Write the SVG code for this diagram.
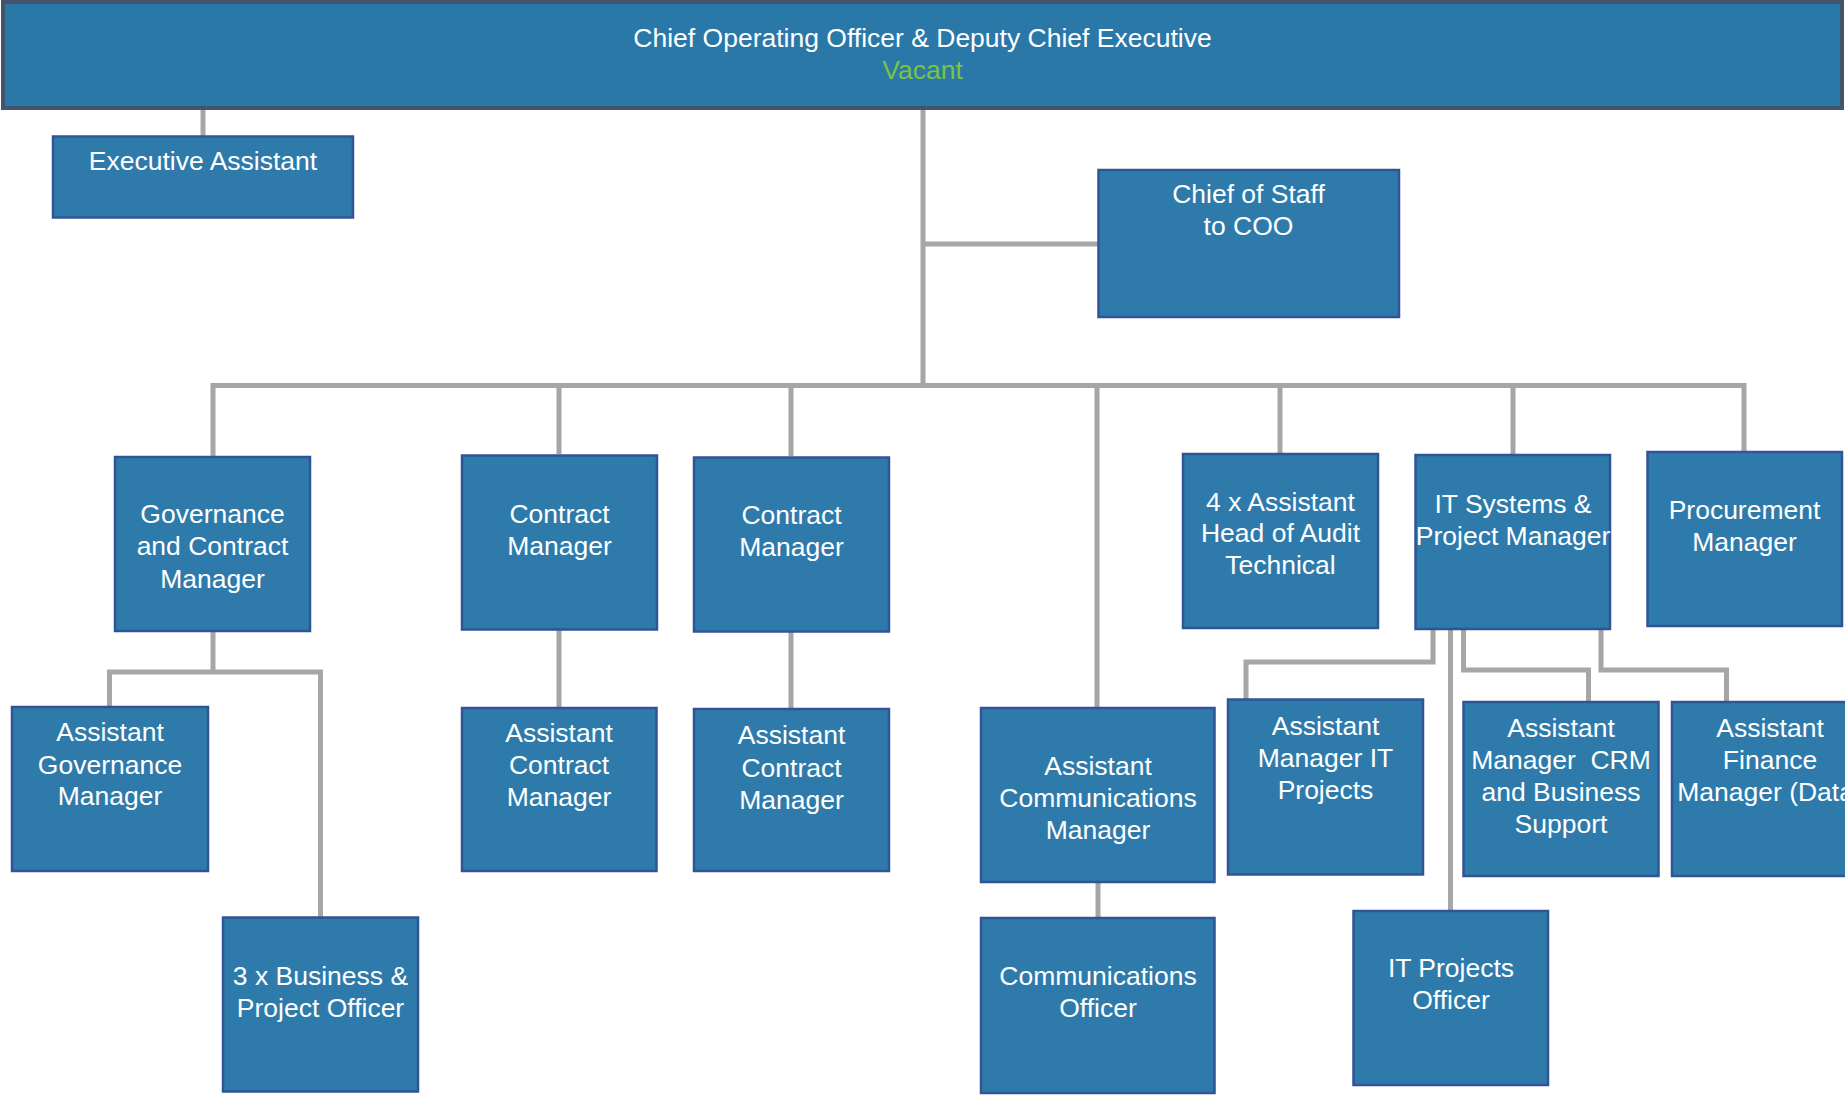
<svg xmlns="http://www.w3.org/2000/svg" width="1845" height="1096" viewBox="0 0 1845 1096">
<style>
.box{fill:#2e7bab;stroke:#2f5597;stroke-width:2.5}
.top{fill:#2a78a8;stroke:#44546a;stroke-width:4}
.t{font-family:"Liberation Sans",Arial,sans-serif;font-size:26.5px;fill:#ffffff;text-anchor:middle}
.v{fill:#7dc242}
.c{fill:none;stroke:#a6a6a6;stroke-width:5;stroke-linejoin:miter}
</style>
<rect width="1845" height="1096" fill="#ffffff"/>
<g id="connectors">
<path class="c" d="M203 109V136"/>
<path class="c" d="M923 109V385.5"/>
<path class="c" d="M923 244H1098"/>
<path class="c" d="M213 456V385.5H1744V451"/>
<path class="c" d="M559 385.5V454"/>
<path class="c" d="M791 385.5V456"/>
<path class="c" d="M1097 385.5V707"/>
<path class="c" d="M1280 385.5V453"/>
<path class="c" d="M1513 385.5V454"/>
<path class="c" d="M213 632V672"/>
<path class="c" d="M109.5 706V672H320.5V917"/>
<path class="c" d="M559 630V707"/>
<path class="c" d="M791 632V708"/>
<path class="c" d="M1098 883V917"/>
<path class="c" d="M1433 630V662H1246V699"/>
<path class="c" d="M1450.5 630V910"/>
<path class="c" d="M1463.5 630V670H1588.5V701"/>
<path class="c" d="M1601 630V670H1726.5V701"/>
</g>
<g id="coo">
<rect class="top" x="3" y="2" width="1839" height="106"/>
<text class="t" x="922.5" y="47">Chief Operating Officer &amp; Deputy Chief Executive</text>
<text class="t v" x="922.5" y="79">Vacant</text>
</g>
<g id="exec-assistant">
<rect class="box" x="53" y="136.5" width="300" height="81"/>
<text class="t" x="203" y="170">Executive Assistant</text>
</g>
<g id="chief-of-staff">
<rect class="box" x="1098.5" y="170" width="300.5" height="147"/>
<text class="t" x="1248.5" y="203">Chief of Staff</text>
<text class="t" x="1248.5" y="235">to COO</text>
</g>
<g id="governance">
<rect class="box" x="115" y="457" width="195" height="174"/>
<text class="t" x="212.5" y="523">Governance</text>
<text class="t" x="212.5" y="555">and Contract</text>
<text class="t" x="212.5" y="587.5">Manager</text>
</g>
<g id="contract-manager-1">
<rect class="box" x="462" y="455.5" width="195" height="174"/>
<text class="t" x="559.5" y="522.5">Contract</text>
<text class="t" x="559.5" y="554.5">Manager</text>
</g>
<g id="contract-manager-2">
<rect class="box" x="694" y="457.5" width="195" height="174"/>
<text class="t" x="791.5" y="524">Contract</text>
<text class="t" x="791.5" y="556">Manager</text>
</g>
<g id="audit">
<rect class="box" x="1183" y="454" width="195" height="174"/>
<text class="t" x="1280.5" y="510.5">4 x Assistant</text>
<text class="t" x="1280.5" y="542">Head of Audit</text>
<text class="t" x="1280.5" y="574">Technical</text>
</g>
<g id="it-systems">
<rect class="box" x="1415.5" y="455" width="194.5" height="174"/>
<text class="t" x="1513" y="512.5">IT Systems &amp;</text>
<text class="t" x="1513" y="544.5">Project Manager</text>
</g>
<g id="procurement">
<rect class="box" x="1647.5" y="452" width="194.5" height="174"/>
<text class="t" x="1744.5" y="519">Procurement</text>
<text class="t" x="1744.5" y="551">Manager</text>
</g>
<g id="asst-governance">
<rect class="box" x="12" y="707" width="196" height="164"/>
<text class="t" x="110" y="741">Assistant</text>
<text class="t" x="110" y="773.5">Governance</text>
<text class="t" x="110" y="805">Manager</text>
</g>
<g id="business-project">
<rect class="box" x="223" y="917.5" width="195" height="174"/>
<text class="t" x="320.5" y="984.5">3 x Business &amp;</text>
<text class="t" x="320.5" y="1016.5">Project Officer</text>
</g>
<g id="asst-contract-1">
<rect class="box" x="462" y="708" width="194.5" height="163"/>
<text class="t" x="559" y="741.5">Assistant</text>
<text class="t" x="559" y="774">Contract</text>
<text class="t" x="559" y="806">Manager</text>
</g>
<g id="asst-contract-2">
<rect class="box" x="694" y="709" width="195" height="162"/>
<text class="t" x="791.5" y="744">Assistant</text>
<text class="t" x="791.5" y="776.5">Contract</text>
<text class="t" x="791.5" y="808.5">Manager</text>
</g>
<g id="asst-comms">
<rect class="box" x="981" y="708" width="233.5" height="174"/>
<text class="t" x="1098" y="774.5">Assistant</text>
<text class="t" x="1098" y="806.5">Communications</text>
<text class="t" x="1098" y="838.5">Manager</text>
</g>
<g id="comms-officer">
<rect class="box" x="981" y="918" width="233.5" height="175"/>
<text class="t" x="1098" y="985">Communications</text>
<text class="t" x="1098" y="1016.5">Officer</text>
</g>
<g id="asst-it-projects">
<rect class="box" x="1228" y="699.5" width="195" height="175"/>
<text class="t" x="1325.5" y="734.5">Assistant</text>
<text class="t" x="1325.5" y="766.5">Manager IT</text>
<text class="t" x="1325.5" y="798.5">Projects</text>
</g>
<g id="it-projects-officer">
<rect class="box" x="1353.5" y="911" width="194.5" height="174"/>
<text class="t" x="1451" y="976.5">IT Projects</text>
<text class="t" x="1451" y="1009">Officer</text>
</g>
<g id="asst-crm">
<rect class="box" x="1463.5" y="702" width="195" height="174"/>
<text class="t" x="1561" y="736.5">Assistant</text>
<text class="t" x="1561" y="768.5" xml:space="preserve">Manager  CRM</text>
<text class="t" x="1561" y="800.5">and Business</text>
<text class="t" x="1561" y="832.5">Support</text>
</g>
<g id="asst-finance">
<rect class="box" x="1672" y="702" width="196" height="174"/>
<text class="t" x="1770" y="736.5">Assistant</text>
<text class="t" x="1770" y="768.5">Finance</text>
<text class="t" x="1770" y="800.5">Manager (Data)</text>
</g>
</svg>
